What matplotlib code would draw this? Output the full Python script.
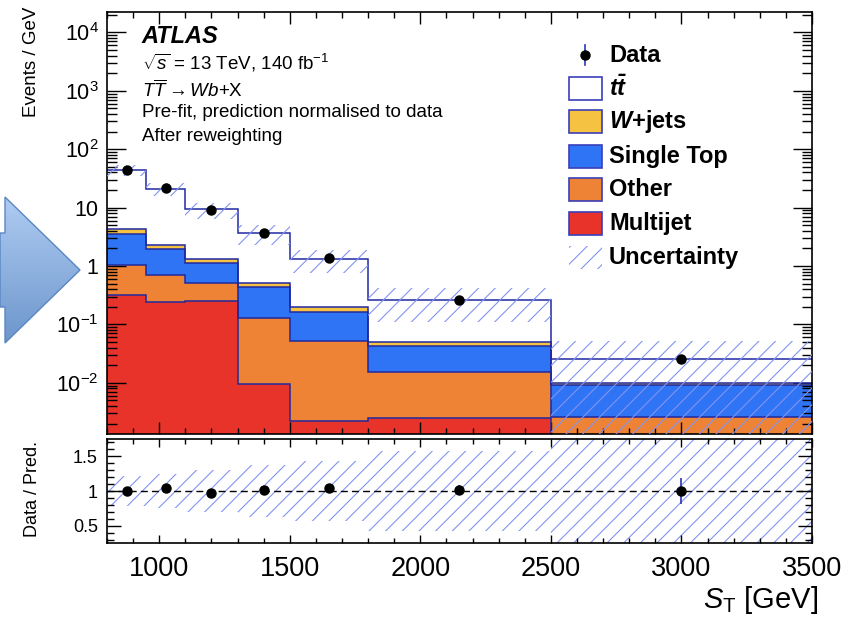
import numpy as np
import matplotlib
matplotlib.use("Agg")
import matplotlib.pyplot as plt
from matplotlib.patches import Rectangle, Polygon
from matplotlib.ticker import LogLocator, NullFormatter, FuncFormatter, MultipleLocator
from matplotlib.colors import LinearSegmentedColormap

# ---------------- data ----------------
bin_edges = [800, 950, 1100, 1300, 1500, 1800, 2500, 3500]
multijet = [0.32, 0.242, 0.25, 0.0095, 0.0022, 0.0025, 0.0]
other = [0.72, 0.448, 0.26, 0.1185, 0.0498, 0.0128, 0.0026]
single_top = [2.49, 1.26, 0.62, 0.309, 0.111, 0.0277, 0.0066]
wjets = [0.77, 0.34, 0.19, 0.073, 0.035, 0.007, 0.0007]
ttbar = [39.7, 18.5, 7.98, 3.16, 1.12, 0.212, 0.0157]
data = [44.0, 21.6, 9.0, 3.72, 1.37, 0.266, 0.0256]
data_rel_err = [0.012, 0.018, 0.024, 0.037, 0.05, 0.075, 0.19]
unc_rel = [0.21, 0.25, 0.30, 0.38, 0.43, 0.58, 1.0]

labels = ["Data", r"$\mathbfit{t\bar{t}}$", r"$\mathbfit{W}$+jets", "Single Top", "Other", "Multijet", "Uncertainty"]
x_ticks = [1000, 1500, 2000, 2500, 3000, 3500]
ratio_ticks = [0.5, 1.0, 1.5]

# ---------------- style ----------------
plt.rcParams['font.family'] = ['Liberation Sans', 'DejaVu Sans']
plt.rcParams['mathtext.fontset'] = 'custom'
plt.rcParams['mathtext.rm'] = 'Liberation Sans'
plt.rcParams['mathtext.it'] = 'Liberation Sans:italic'
plt.rcParams['mathtext.bf'] = 'Liberation Sans:bold'
try:
    plt.rcParams['mathtext.bfit'] = 'Liberation Sans:bold:italic'
except Exception:
    pass
plt.rcParams['hatch.linewidth'] = 0.8

c_mj = '#e8332a'
c_other = '#ee8235'
c_st = '#2f74f5'
c_w = '#f6c242'
c_edge = '#1f2aa0'
c_hatch = '#8493f0'
c_err = '#2a35b8'

W, H = 858, 620
fig = plt.figure(figsize=(W / 100, H / 100), dpi=100)

# decorative arrow (pixel coordinates)
axa = fig.add_axes([0, 0, 1, 1], zorder=-5)
axa.set_xlim(0, W)
axa.set_ylim(H, 0)
axa.axis('off')
arrow_pts = [(0, 233), (5, 233), (5, 197), (80, 270), (5, 343), (5, 307), (0, 307)]
grad = np.linspace(0, 1, 256).reshape(-1, 1)
cm_arrow = LinearSegmentedColormap.from_list('arr', ['#b0cdf3', '#6c95cb'])
im = axa.imshow(grad, extent=[0, 82, 345, 195], cmap=cm_arrow, aspect='auto', origin='upper')
poly = Polygon(arrow_pts, closed=True, facecolor='none', edgecolor='#5a86c2', lw=1.0)
axa.add_patch(poly)
im.set_clip_path(poly)

def px_axes(l, t, r, b):
    return [l / W, 1 - b / H, (r - l) / W, (b - t) / H]

ax = fig.add_axes(px_axes(107, 12, 812, 434))
rax = fig.add_axes(px_axes(107, 439, 812, 543))

edges = np.array(bin_edges, dtype=float)
widths = np.diff(edges)
centers = 0.5 * (edges[:-1] + edges[1:])

components = [(multijet, c_mj), (other, c_other), (single_top, c_st), (wjets, c_w), (ttbar, 'white')]
bottom = np.zeros(len(widths))
for vals, col in components:
    v = np.array(vals)
    ax.bar(edges[:-1], v, width=widths, bottom=bottom, align='edge', color=col, linewidth=0, zorder=1)
    bottom = bottom + v
    ax.stairs(bottom, edges, baseline=None, color=c_edge, lw=1.1, zorder=2)
total = bottom

unc = np.array(unc_rel)
ax.bar(edges[:-1], 2 * unc * total, bottom=total * (1 - unc), width=widths, align='edge',
       facecolor='none', edgecolor=c_hatch, hatch='//', linewidth=0, zorder=3)

d = np.array(data)
ax.errorbar(centers, d, yerr=d * np.array(data_rel_err), fmt='o', color='black', ms=6.5,
            elinewidth=1.2, ecolor=c_err, capsize=0, zorder=5)

ax.set_yscale('log')
ax.set_xlim(800, 3500)
ax.set_ylim(1.33e-3, 2.24e4)

def log_fmt(v, pos):
    e = int(round(np.log10(v)))
    if e == 0:
        return '1'
    if e == 1:
        return '10'
    return r'$10^{%d}$' % e

ax.yaxis.set_major_locator(LogLocator(base=10, numticks=20))
ax.yaxis.set_minor_locator(LogLocator(base=10, subs=np.arange(2, 10), numticks=20))
ax.yaxis.set_major_formatter(FuncFormatter(log_fmt))
ax.yaxis.set_minor_formatter(NullFormatter())
ax.xaxis.set_major_locator(MultipleLocator(500))
ax.xaxis.set_minor_locator(MultipleLocator(100))
ax.tick_params(axis='both', which='both', direction='in', top=True, right=True, width=1.0)
ax.tick_params(axis='y', which='major', length=14, labelsize=15.5, pad=6)
ax.tick_params(axis='y', which='minor', length=7)
ax.tick_params(axis='x', which='major', length=8.6, labelbottom=False)
ax.tick_params(axis='x', which='minor', length=4.3)
for s in ax.spines.values():
    s.set_linewidth(1.2)

# annotations
tx = 0.049
ax.text(tx, 0.941, 'ATLAS', transform=ax.transAxes, fontsize=17, fontweight='bold', fontstyle='italic', va='center', ha='left')
ax.text(tx, 0.879, r'$\sqrt{s}$ = 13 TeV, 140 fb$^{-1}$', transform=ax.transAxes, fontsize=13.5, va='center', ha='left')
ax.text(tx, 0.815, r'$T\overline{T}\rightarrow Wb$+X', transform=ax.transAxes, fontsize=13.5, va='center', ha='left')
ax.text(tx, 0.761, 'Pre-fit, prediction normalised to data', transform=ax.transAxes, fontsize=13.5, va='center', ha='left')
ax.text(tx, 0.704, 'After reweighting', transform=ax.transAxes, fontsize=13.5, va='center', ha='left')

# legend (manual)
rows = [0.897, 0.818, 0.740, 0.657, 0.579, 0.498, 0.418]
bx0, bw, bh = 0.6553, 0.0468, 0.0545
txx = 0.712
leg_fc = [None, 'white', c_w, c_st, c_other, c_mj, None]
for i, (yy, lab) in enumerate(zip(rows, labels)):
    if i == 0:
        ax.plot([bx0 + bw / 2] * 2, [yy - 0.0237, yy + 0.0237], color=c_err, lw=1.2, transform=ax.transAxes, zorder=6)
        ax.plot([bx0 + bw / 2], [yy], 'o', color='black', ms=6.5, transform=ax.transAxes, zorder=7)
    elif i == 6:
        ax.add_patch(Rectangle((bx0, yy - bh / 2), bw, bh, transform=ax.transAxes, facecolor='none',
                               edgecolor=c_hatch, hatch='//', linewidth=0, zorder=6))
    else:
        ax.add_patch(Rectangle((bx0, yy - bh / 2), bw, bh, transform=ax.transAxes, facecolor=leg_fc[i],
                               edgecolor='#3b3fb8', linewidth=1.2, zorder=6))
    ax.text(txx, yy, lab, transform=ax.transAxes, fontsize=17, fontweight='bold', va='center', ha='left', zorder=6)

# ---------------- ratio ----------------
ratio = d / total
rax.bar(edges[:-1], 2 * unc, bottom=1 - unc, width=widths, align='edge',
        facecolor='none', edgecolor=c_hatch, hatch='//', linewidth=0, zorder=1)
rax.axhline(1.0, color='black', lw=1.0, ls=(0, (5, 3)), zorder=2)
rax.errorbar(centers, ratio, yerr=ratio * np.array(data_rel_err), fmt='o', color='black', ms=6.5,
             elinewidth=1.2, ecolor=c_err, capsize=0, zorder=5)
rax.set_xlim(800, 3500)
rax.set_ylim(0.25, 1.75)
rax.set_xticks(x_ticks)
rax.xaxis.set_minor_locator(MultipleLocator(100))
rax.set_yticks(ratio_ticks)
rax.yaxis.set_minor_locator(MultipleLocator(0.1))
rax.yaxis.set_major_formatter(FuncFormatter(lambda v, p: '%g' % v))
rax.xaxis.set_major_formatter(FuncFormatter(lambda v, p: '%d' % v))
rax.tick_params(axis='both', which='both', direction='in', top=True, right=True, width=1.0)
rax.tick_params(axis='x', which='major', length=6, labelsize=19.5, pad=9)
rax.tick_params(axis='x', which='minor', length=3.5)
rax.tick_params(axis='y', which='major', length=10, labelsize=13, pad=6.5)
rax.tick_params(axis='y', which='minor', length=5)
for s in rax.spines.values():
    s.set_linewidth(1.2)

# axis titles
fig.text(32 / W, 1 - 7 / H, 'Events / GeV', rotation=90, ha='center', va='top', fontsize=13.5)
fig.text(32.5 / W, 1 - 489 / H, 'Data / Pred.', rotation=90, ha='center', va='center', fontsize=13)
fig.text(818 / W, 1 - 600 / H, r'$S_{\mathrm{T}}$ [GeV]', ha='right', va='center', fontsize=21)

fig.savefig('out.png', dpi=100)
